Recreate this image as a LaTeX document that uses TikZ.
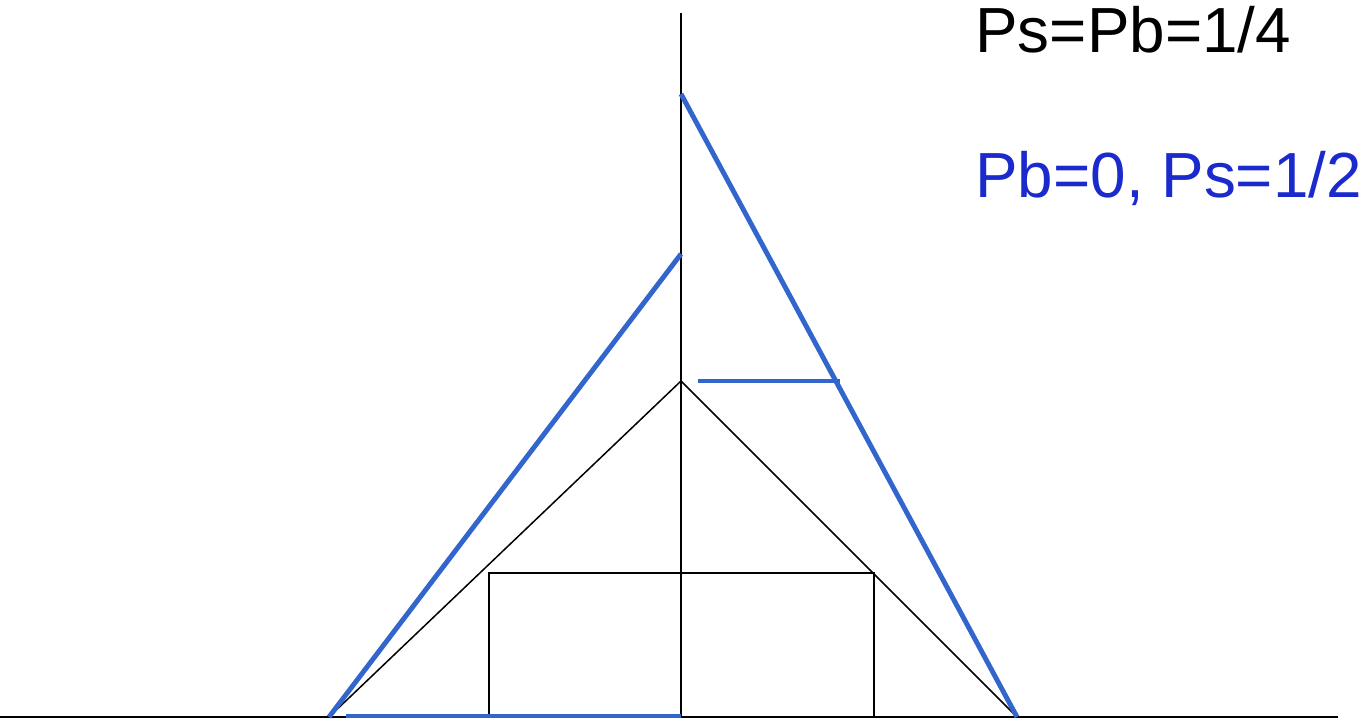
\documentclass[tikz,border=0pt]{standalone}
\usepackage{fontspec}
\setmainfont{Liberation Sans}
\definecolor{lineblue}{RGB}{51,102,204}
\definecolor{textblue}{RGB}{26,42,204}
\begin{document}
\begin{tikzpicture}[x=0.02cm, y=0.02cm,
    axisline/.style={line width=0.85pt},
    blueline/.style={line width=2.8pt, lineblue},
    label/.style={anchor=base west, inner sep=0pt, font=\fontsize{36.3}{40}\selectfont}]
    \useasboundingbox (0,0) rectangle (1361,719);
    % axes
    \coordinate (o) at (681,2);
    \draw[axisline] (0,2) -- (1338,2);
    \draw[axisline] (o) -- (681,706);
    % triangle and box
    \coordinate (tl) at (329,2);
    \coordinate (tr) at (1017,2);
    \coordinate (top) at (681,338);
    \draw[axisline] (tl) -- (top) -- (tr);
    \draw[axisline] (489,2) rectangle (874,146);
    % blue lines
    \draw[blueline] (tl) -- (681,465);
    \draw[blueline] (681,625) -- (tr);
    \draw[blueline] (698,338) -- (840,338);
    \draw[blueline] (346,3) -- (681,3);
    % labels
    \node[label] (pone) at (975,666) {Ps=Pb=1/4};
    \node[label, textblue] (ptwo) at (975,521) {Pb=0, Ps=1/2};
\end{tikzpicture}
\end{document}
